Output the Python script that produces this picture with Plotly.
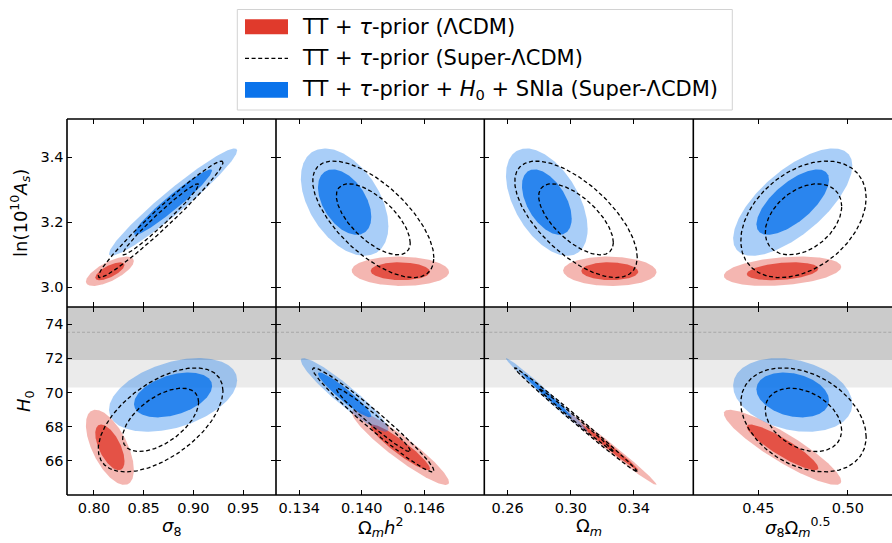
import numpy as np
import plotly.graph_objects as go
from plotly.subplots import make_subplots

# ---------------- data ----------------
# parameter order: sigma8, omega_m h^2, omega_m, sigma8*omega_m^0.5, ln(10^10 As), H0
lcdm_mean = [0.816, 0.1437, 0.3247, 0.4635, 3.049, 66.79]
lcdm_sd = [0.0097, 0.00188, 0.0119, 0.0132, 0.0182, 0.885]
super_mean = [0.867, 0.1411, 0.3033, 0.4752, 3.209, 68.40]
super_sd = [0.0252, 0.00234, 0.0156, 0.0141, 0.0722, 1.225]
sn_mean = [0.8795, 0.13835, 0.2848, 0.4692, 3.262, 69.86]
sn_sd = [0.0259, 0.00169, 0.0104, 0.0134, 0.0665, 0.868]

# correlations of each x-parameter with ln(10^10 As) (top row) and H0 (bottom row)
lcdm_rho_As = [0.70, -0.05, -0.05, 0.30]
lcdm_rho_H0 = [-0.60, -0.93, -0.99, -0.90]
super_rho_As = [0.975, -0.66, -0.65, 0.37]
super_rho_H0 = [0.56, -0.975, -0.996, -0.33]
sn_rho_As = [0.96, -0.45, -0.50, 0.68]
sn_rho_H0 = [0.40, -0.94, -0.991, -0.25]

# local H0 prior band
h0_local = 73.53
h0_local_sd = 1.62

x_titles = ["<i>σ</i><sub>8</sub>", "Ω<sub><i>m</i></sub><i>h</i><sup>2</sup>",
            "Ω<sub><i>m</i></sub>", "<i>σ</i><sub>8</sub>Ω<sub><i>m</i></sub><sup>0.5</sup>"]
y_titles = ["ln(10<sup>10</sup><i>A</i><sub><i>s</i></sub>)", "<i>H</i><sub>0</sub>"]
x_ticks = [[0.80, 0.85, 0.90, 0.95], [0.134, 0.140, 0.146], [0.26, 0.30, 0.34], [0.45, 0.50]]
x_fmt = [".2f", ".3f", ".2f", ".2f"]
x_ranges = [[0.7729, 0.983], [0.13176, 0.15176], [0.2452, 0.3776], [0.4136, 0.5247]]
y_ticks = [[3.0, 3.2, 3.4], [66, 68, 70, 72, 74]]
y_ranges = [[2.939, 3.518], [64.0, 75.01]]

legend_labels = ["TT + <i>τ</i>-prior (ΛCDM)",
                 "TT + <i>τ</i>-prior (Super-ΛCDM)",
                 "TT + <i>τ</i>-prior + <i>H</i><sub>0</sub> + SNIa (Super-ΛCDM)"]

# ---------------- styling ----------------
RED_OUT = "rgba(224,58,44,0.37)"
RED_IN = "rgba(224,58,44,0.80)"
BLUE_OUT = "rgba(10,115,235,0.35)"
BLUE_IN = "rgba(10,115,235,0.80)"
K68 = np.sqrt(-2 * np.log(1 - 0.6827))
K95 = np.sqrt(-2 * np.log(1 - 0.9545))
FONT = "DejaVu Sans"

W, H = 892, 543
ML, MR, MT, MB = 67, 0, 119, 48
COL_W = [209, 208.3, 209, 198.7]


def ellipse(mx, my, sx, sy, r, k):
    t = np.linspace(0, 2 * np.pi, 241)
    x = mx + k * sx * np.cos(t)
    y = my + k * sy * (r * np.cos(t) + np.sqrt(1 - r * r) * np.sin(t))
    return x, y


fig = make_subplots(rows=2, cols=4, column_widths=COL_W,
                    horizontal_spacing=0, vertical_spacing=0)

models = [
    ("fill", lcdm_mean, lcdm_sd, lcdm_rho_As, lcdm_rho_H0, RED_OUT, RED_IN),
    ("fill", sn_mean, sn_sd, sn_rho_As, sn_rho_H0, BLUE_OUT, BLUE_IN),
    ("line", super_mean, super_sd, super_rho_As, super_rho_H0, None, None),
]

for row in (1, 2):
    yi = 4 if row == 1 else 5
    for col in range(1, 5):
        xi = col - 1
        for kind, mean, sd, rAs, rH0, cout, cin in models:
            rho = rAs[xi] if row == 1 else rH0[xi]
            for k, c in ((K95, cout), (K68, cin)):
                ex, ey = ellipse(mean[xi], mean[yi], sd[xi], sd[yi], rho, k)
                if kind == "fill":
                    fig.add_trace(go.Scatter(x=ex, y=ey, mode="lines", fill="toself",
                                             fillcolor=c, line=dict(width=0),
                                             hoverinfo="skip", showlegend=False),
                                  row=row, col=col)
                else:
                    fig.add_trace(go.Scatter(x=ex, y=ey, mode="lines",
                                             line=dict(color="black", width=1.3, dash="4px,2.6px"),
                                             hoverinfo="skip", showlegend=False),
                                  row=row, col=col)

# H0 prior bands in the bottom row
for col in range(1, 5):
    n = 4 + col
    xd = f"x{n} domain"
    yr = f"y{n}"
    fig.add_shape(type="rect", xref=xd, yref=yr, x0=0, x1=1,
                  y0=h0_local - 2 * h0_local_sd, y1=h0_local + 2 * h0_local_sd,
                  fillcolor="rgb(235,235,235)", line=dict(width=0), layer="below")
    fig.add_shape(type="rect", xref=xd, yref=yr, x0=0, x1=1,
                  y0=h0_local - h0_local_sd, y1=h0_local + h0_local_sd,
                  fillcolor="rgb(203,203,203)", line=dict(width=0), layer="below")
    fig.add_shape(type="line", xref=xd, yref=yr, x0=0, x1=1,
                  y0=h0_local, y1=h0_local,
                  line=dict(color="rgb(160,160,160)", width=0.8, dash="3px,2px"), layer="below")

axis_common = dict(showline=True, linecolor="rgba(0,0,0,0)", linewidth=0.1,
                   ticks="inside", ticklen=5, tickwidth=1.3, tickcolor="black",
                   showgrid=False, zeroline=False,
                   tickfont=dict(family=FONT, size=14.5, color="black"))

for row in (1, 2):
    for col in range(1, 5):
        xi = col - 1
        fig.update_xaxes(axis_common, row=row, col=col, mirror="allticks",
                         range=x_ranges[xi], tickvals=x_ticks[xi], tickformat=x_fmt[xi],
                         showticklabels=(row == 2))
        fig.update_yaxes(axis_common, row=row, col=col,
                         mirror=("allticks" if col < 4 else False),
                         range=y_ranges[row - 1], tickvals=y_ticks[row - 1],
                         tickformat=(".1f" if row == 1 else "d"),
                         showticklabels=(col == 1))

pw, ph = W - ML - MR, H - MT - MB


def px(xp):
    return (xp - ML) / pw


def py(yp):
    return (H - MB - yp) / ph


# panel frame lines (shared borders drawn once)
frame = dict(color="black", width=1.6)
xb = [ML]
for w in COL_W:
    xb.append(xb[-1] + w)
for xv in xb[:-1]:
    fig.add_shape(type="line", xref="paper", yref="paper", x0=px(xv), x1=px(xv),
                  y0=0, y1=1, line=frame)
for yv in (0, 0.5, 1):
    fig.add_shape(type="line", xref="paper", yref="paper", x0=0, x1=1,
                  y0=yv, y1=yv, line=frame)

# axis titles
x_title_px = [171.5, 380.0, 588.7, 797.5]
for t, xp in zip(x_titles, x_title_px):
    fig.add_annotation(text=t, xref="paper", yref="paper", x=px(xp), y=py(527),
                       xanchor="center", yanchor="middle", showarrow=False,
                       font=dict(family=FONT, size=18, color="black"))
for t, xp, yp in zip(y_titles, [20, 25], [213, 401]):
    fig.add_annotation(text=t, xref="paper", yref="paper", x=px(xp), y=py(yp),
                       xanchor="center", yanchor="middle", showarrow=False, textangle=-90,
                       font=dict(family=FONT, size=18, color="black"))

# legend (custom, matplotlib-like)
fig.add_shape(type="rect", xref="paper", yref="paper", x0=px(237.3), x1=px(732.3),
              y0=py(110), y1=py(9.5), fillcolor="rgba(255,255,255,0.8)",
              line=dict(color="rgb(210,210,210)", width=1))
fig.add_shape(type="rect", xref="paper", yref="paper", x0=px(245), x1=px(288),
              y0=py(34.3), y1=py(19.3), fillcolor="rgb(224,58,44)", line=dict(width=0))
fig.add_shape(type="line", xref="paper", yref="paper", x0=px(245), x1=px(288),
              y0=py(58.3), y1=py(58.3), line=dict(color="black", width=1.3, dash="4px,2.6px"))
fig.add_shape(type="rect", xref="paper", yref="paper", x0=px(245), x1=px(288),
              y0=py(97.7), y1=py(82), fillcolor="rgb(10,115,235)", line=dict(width=0))
for lab, yp in zip(legend_labels, [26.7, 58.3, 89.7]):
    fig.add_annotation(text=lab, xref="paper", yref="paper", x=px(300), y=py(yp),
                       xanchor="left", yanchor="middle", showarrow=False,
                       font=dict(family=FONT, size=21, color="black"))

fig.update_layout(width=W, height=H, margin=dict(l=ML, r=MR, t=MT, b=MB),
                  paper_bgcolor="white", plot_bgcolor="rgba(0,0,0,0)",
                  showlegend=False, font=dict(family=FONT, color="black"))

fig.write_html("out.html")
